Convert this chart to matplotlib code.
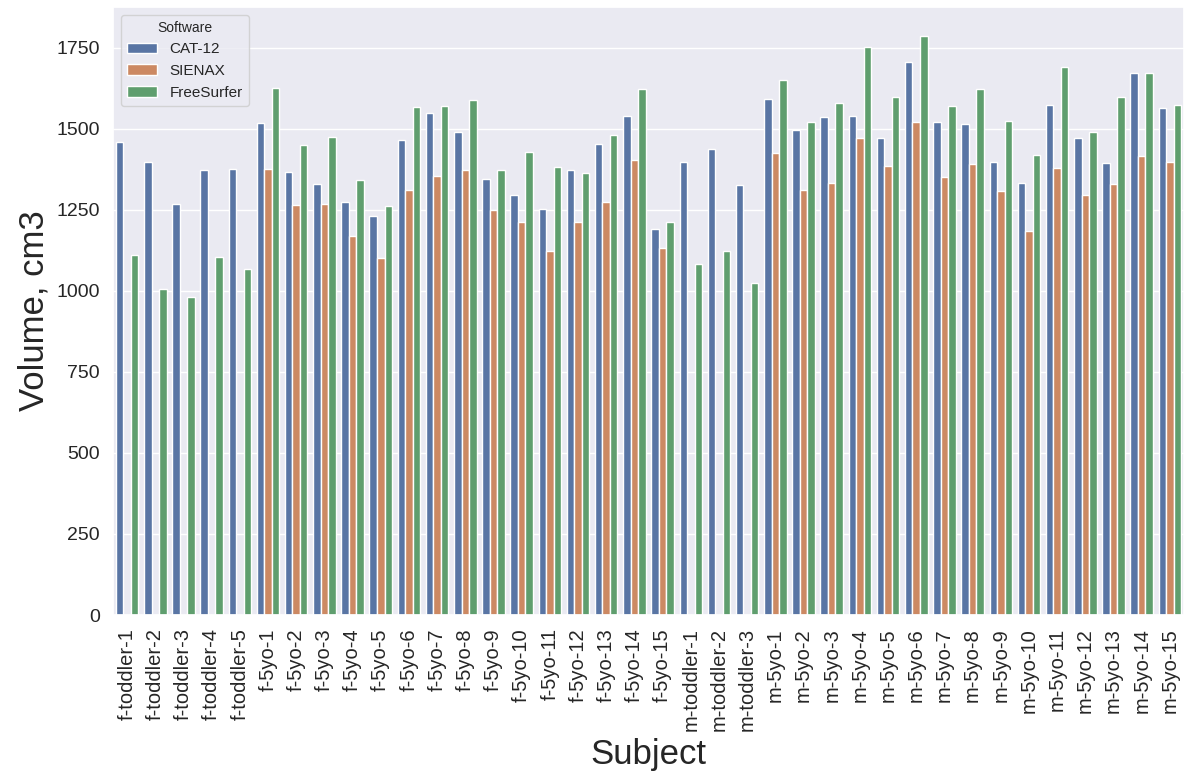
import numpy as np
import pandas as pd
import seaborn as sns
import matplotlib
matplotlib.use("Agg")
import matplotlib.pyplot as plt

# subjects in plot order
subjects = (["f-toddler-%d" % i for i in range(1, 6)]
            + ["f-5yo-%d" % i for i in range(1, 16)]
            + ["m-toddler-%d" % i for i in range(1, 4)]
            + ["m-5yo-%d" % i for i in range(1, 16)])

# volumes (cm3); SIENAX has no toddler values
cat12 = [1458, 1397, 1268, 1372, 1376,
         1517, 1366, 1329, 1274, 1229, 1466, 1548, 1488, 1346, 1294,
         1252, 1372, 1454, 1540, 1191,
         1397, 1436, 1325,
         1592, 1497, 1536, 1540, 1471, 1704, 1519, 1514, 1398, 1331,
         1574, 1471, 1394, 1673, 1562]
sienax = [np.nan] * 5 + [
         1376, 1264, 1268, 1170, 1101, 1312, 1355, 1372, 1248, 1213,
         1122, 1213, 1274, 1402, 1132] + [np.nan] * 3 + [
         1424, 1312, 1333, 1471, 1385, 1519, 1351, 1390, 1308, 1183,
         1377, 1294, 1329, 1416, 1398]
freesurfer = [1109, 1005, 980, 1105, 1067,
              1626, 1450, 1475, 1342, 1260, 1566, 1570, 1587, 1372, 1428,
              1381, 1364, 1479, 1621, 1213,
              1083, 1122, 1024,
              1651, 1519, 1578, 1751, 1596, 1785, 1570, 1621, 1523, 1420,
              1690, 1488, 1596, 1673, 1574]

software = ["CAT-12", "SIENAX", "FreeSurfer"]

df = pd.DataFrame({
    "Subject": subjects * 3,
    "Software": [s for s in software for _ in subjects],
    "Volume": cat12 + sienax + freesurfer,
})

sns.set_theme(style="darkgrid")
plt.rcParams["font.family"] = ["Liberation Sans", "DejaVu Sans"]

fig, ax = plt.subplots(figsize=(11.84, 7.76), dpi=100)
fig.subplots_adjust(left=113 / 1184, right=1.0, top=1 - 7 / 776, bottom=1 - 615 / 776)

sns.barplot(data=df, x="Subject", y="Volume", hue="Software", hue_order=software,
            order=subjects, errorbar=None, edgecolor="white", linewidth=1, ax=ax)

ax.set_xlabel("Subject", fontsize=25, labelpad=5)
ax.set_ylabel("Volume, cm3", fontsize=25)
ax.tick_params(axis="x", labelsize=14.5, rotation=90)
ax.tick_params(axis="y", labelsize=14)
ax.set_ylim(0, 1875)
ax.legend(title="Software", loc="upper left", fontsize=11, title_fontsize=10)

fig.savefig("out.png", dpi=100)
